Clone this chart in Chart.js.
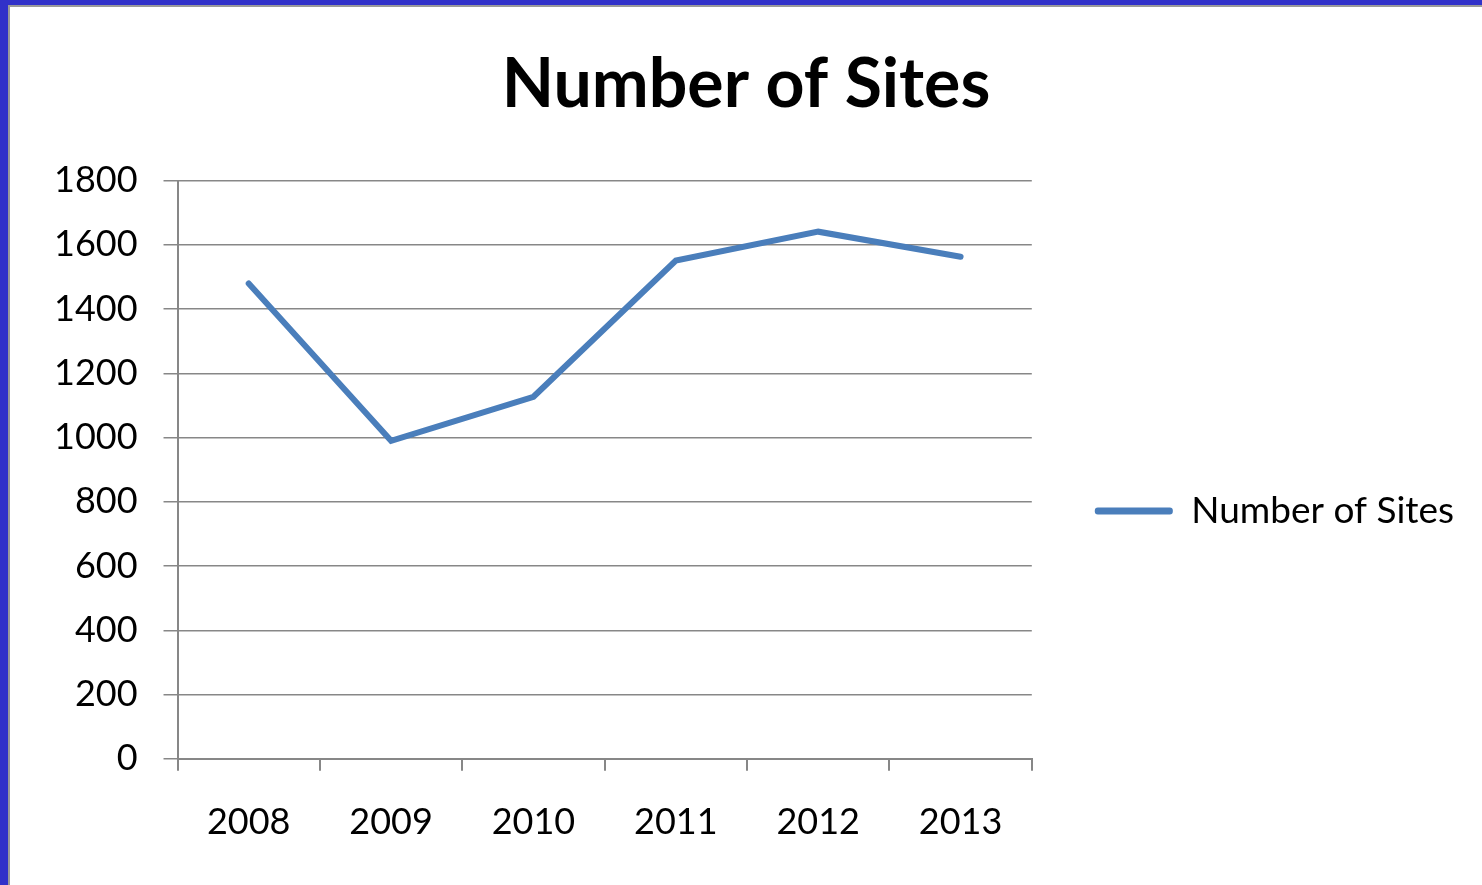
<!DOCTYPE html>
<html>
<head>
<meta charset="utf-8">
<script src="https://cdn.jsdelivr.net/npm/chart.js@4"></script>
<style>
  html, body { margin: 0; padding: 0; }
  body { width: 1482px; height: 885px; background: #3131c9; position: relative; overflow: hidden; }
  #sheet {
    position: absolute; left: 8px; top: 5px; right: 0; bottom: 0;
    background: #fff; border-left: 2px solid #9a9a9a; border-top: 2px solid #9a9a9a;
  }
  #sheet canvas { display: block; }
</style>
</head>
<body>
<div id="sheet"><canvas id="sitesChart" width="1472" height="878"></canvas></div>
<script>
// dati
const anni = ["2008", "2009", "2010", "2011", "2012", "2013"];
const numeroSiti = [1480, 990, 1127, 1551, 1641, 1563];
const tickY = [0, 200, 400, 600, 800, 1000, 1200, 1400, 1600, 1800];

const blu = "#4a7ebb";
const grigio = "#878787";
const font = "Lato, 'Open Sans', sans-serif";

const ctx = document.getElementById("sitesChart").getContext("2d");

new Chart(ctx, {
  type: "line",
  data: {
    labels: anni,
    datasets: [
      {
        label: "Number of Sites",
        data: numeroSiti,
        borderColor: blu,
        backgroundColor: blu,
        borderWidth: 6,
        borderCapStyle: "round",
        pointRadius: 0,
        tension: 0,
        fill: false,
      },
    ],
  },
  options: {
    responsive: false,
    animation: false,
    layout: { padding: { left: 18, right: 18, top: 0, bottom: 11 } },
    plugins: {
      title: {
        display: true,
        text: "Number of Sites",
        color: "#000",
        font: { family: font, size: 68, weight: "bold" },
        padding: { top: 37, bottom: 55 },
      },
      legend: {
        position: "right",
        maxWidth: 460,
        // titolo vuoto solo per abbassare la voce della legenda
        title: { display: true, text: " ", font: { size: 10 }, padding: { top: 0, bottom: 129 } },
        labels: {
          color: "#000",
          font: { family: font, size: 37 },
          boxWidth: 78,
          boxHeight: 7,
          padding: 63,
          useBorderRadius: true,
          borderRadius: 3,
          generateLabels(chart) {
            const items = Chart.defaults.plugins.legend.labels.generateLabels(chart);
            items.forEach((it) => { it.lineWidth = 0; it.fillStyle = blu; });
            return items;
          },
        },
      },
      tooltip: { enabled: false },
    },
    scales: {
      x: {
        offset: true,
        grid: { offset: true, drawOnChartArea: false, color: grigio, lineWidth: 2, tickLength: 12 },
        border: { color: grigio, width: 2 },
        ticks: { color: "#000", font: { family: font, size: 36 }, padding: 30, maxRotation: 0 },
      },
      y: {
        min: 0,
        max: 1800,
        afterBuildTicks: (scale) => { scale.ticks = tickY.map((v) => ({ value: v })); },
        grid: { color: grigio, lineWidth: 1.5, tickLength: 14 },
        border: { color: grigio, width: 2 },
        ticks: {
          color: "#000",
          font: { family: font, size: 36 },
          padding: 26,
          callback: (v) => String(v),
        },
      },
    },
  },
});
</script>
</body>
</html>
